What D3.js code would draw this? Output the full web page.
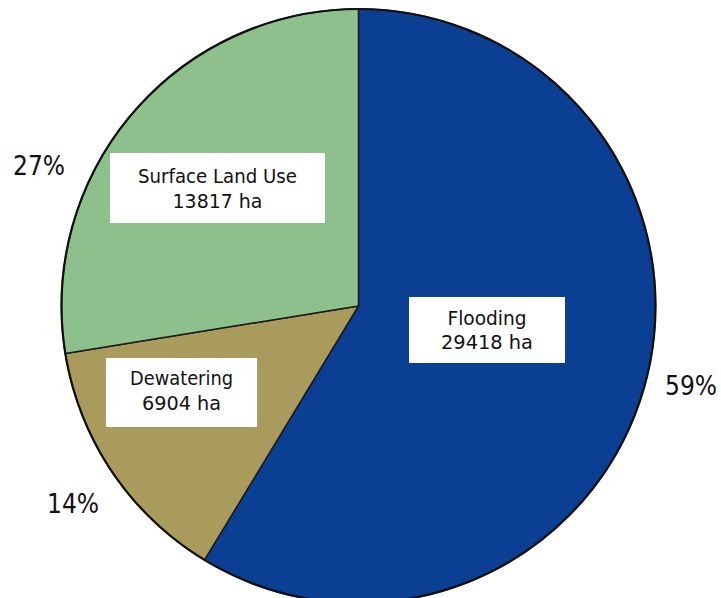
<!DOCTYPE html>
<html><head><meta charset="utf-8">
<script src="https://cdn.jsdelivr.net/npm/d3@7"></script>
<style>body{margin:0;background:#fff}svg{display:block}</style>
</head><body>
<svg id="chart" width="721" height="598"></svg>
<script>
const categories = ["Flooding", "Dewatering", "Surface Land Use"];
const areasHa = [29418, 6904, 13817];
const percentLabels = ["59%", "14%", "27%"];
const colors = ["#0b3f94", "#a99b5c", "#8ec08d"];

const cx = 358.5, cy = 306, R = 297;
const svg = d3.select("#chart");
const g = svg.append("g").attr("transform", `translate(${cx},${cy})`);

const data = categories.map((c, i) => ({cat: c, v: areasHa[i], pct: percentLabels[i], col: colors[i]}));
const pie = d3.pie().value(d => d.v).sort(null);
const arcs = pie(data);
const arc = d3.arc().innerRadius(0).outerRadius(R);

g.selectAll("path.slice").data(arcs).join("path")
  .attr("class", "slice")
  .attr("d", arc)
  .attr("fill", d => d.data.col)
  .attr("stroke", "#1a1a1a").attr("stroke-width", 1.5).attr("stroke-linejoin", "round");
g.append("circle").attr("r", R).attr("fill", "none").attr("stroke", "#111").attr("stroke-width", 2.2);

// label boxes (layout only)
const boxes = [
  {x: 409, y: 297, w: 156, h: 66, b1: 325, b2: 349, l1: 79, l2: 92},
  {x: 106, y: 358, w: 151, h: 69, b1: 385, b2: 410, l1: 103, l2: 79},
  {x: 110, y: 153, w: 215, h: 70, b1: 183, b2: 208, l1: 159, l2: 90}
];
const font = "'DejaVu Sans Condensed', 'Liberation Sans Narrow', sans-serif";
arcs.forEach((a, i) => {
  const b = boxes[i];
  const mx = b.x + b.w / 2;
  svg.append("rect").attr("x", b.x).attr("y", b.y).attr("width", b.w).attr("height", b.h)
    .attr("fill", "#fff");
  svg.append("text").attr("x", mx).attr("y", b.b1)
    .attr("text-anchor", "middle").attr("font-family", font).attr("font-size", 20).attr("fill", "#111")
    .attr("textLength", b.l1).attr("lengthAdjust", "spacingAndGlyphs")
    .text(a.data.cat);
  svg.append("text").attr("x", mx).attr("y", b.b2)
    .attr("text-anchor", "middle").attr("font-family", font).attr("font-size", 20).attr("fill", "#111")
    .attr("textLength", b.l2).attr("lengthAdjust", "spacingAndGlyphs")
    .text(d3.format("d")(a.data.v) + " ha");
});

// percentage labels outside
const pctPos = [
  {x: 691, y: 395},
  {x: 73, y: 513},
  {x: 39, y: 175}
];
arcs.forEach((a, i) => {
  svg.append("text").attr("x", pctPos[i].x).attr("y", pctPos[i].y)
    .attr("text-anchor", "middle").attr("font-family", font).attr("font-size", 26).attr("fill", "#111")
    .attr("textLength", 52).attr("lengthAdjust", "spacingAndGlyphs")
    .text(a.data.pct);
});
</script>
</body></html>
